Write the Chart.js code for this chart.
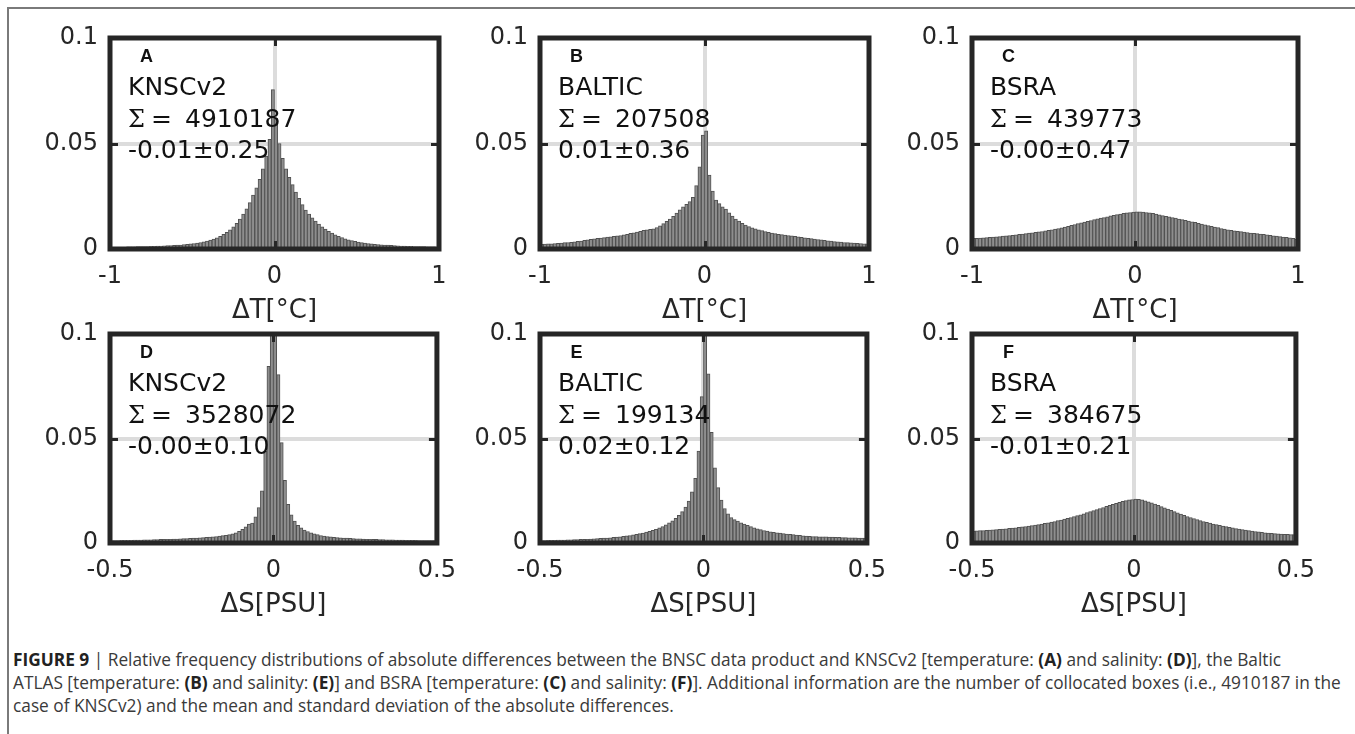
<!DOCTYPE html>
<html>
<head>
<meta charset="utf-8">
<script src="https://cdn.jsdelivr.net/npm/chart.js@4.4.1/dist/chart.umd.min.js"></script>
<style>
body { margin: 0; background: #fff; }
#page { position: relative; width: 1355px; height: 734px; overflow: hidden; background: #fff; }
#page canvas { position: absolute; }
#topLine { position: absolute; left: 7px; top: 7px; right: 0; height: 2px; background: #7a7a7a; }
#leftLine { position: absolute; left: 7px; top: 7px; bottom: 0; width: 2px; background: #7a7a7a; }
#caption { position: absolute; left: 13px; top: 648px; font-family: "Open Sans", "Liberation Sans", sans-serif; color: #3a3a3a; line-height: 23px; white-space: nowrap; font-size: 15px; }
#caption b { color: #222; }
#caption .ln span { display: inline-block; }
</style>
</head>
<body>
<div id="page">
  <div id="topLine"></div>
  <div id="leftLine"></div>
  <canvas id="pA"></canvas>
  <canvas id="pB"></canvas>
  <canvas id="pC"></canvas>
  <canvas id="pD"></canvas>
  <canvas id="pE"></canvas>
  <canvas id="pF"></canvas>
  <div id="caption">
    <div class="ln"><span><b>FIGURE 9</b> | Relative frequency distributions of absolute differences between the BNSC data product and KNSCv2 [temperature: <b>(A)</b> and salinity: <b>(D)</b>], the Baltic</span></div>
    <div class="ln"><span id="fitLine">ATLAS [temperature: <b>(B)</b> and salinity: <b>(E)</b>] and BSRA [temperature: <b>(C)</b> and salinity: <b>(F)</b>]. Additional information are the number of collocated boxes (i.e., 4910187 in the</span></div>
    <div class="ln"><span>case of KNSCv2) and the mean and standard deviation of the absolute differences.</span></div>
  </div>
</div>
<script>
// histogram ranges and tick labels
const tempRange = [-1, 1];
const salRange = [-0.5, 0.5];
const tempTicks = [-1, 0, 1];
const salTicks = [-0.5, 0, 0.5];
const freqTicks = [0, 0.05, 0.1];

const panelLabels = ['A', 'B', 'C', 'D', 'E', 'F'];
const productNames = ['KNSCv2', 'BALTIC', 'BSRA', 'KNSCv2', 'BALTIC', 'BSRA'];
const boxCounts = ['4910187', '207508', '439773', '3528072', '199134', '384675'];
const meanStd = ['-0.01±0.25', '0.01±0.36', '-0.00±0.47', '-0.00±0.10', '0.02±0.12', '-0.01±0.21'];

// relative frequencies, 100 bins each
const tempKnscv2 = [
  .0008, .0008, .0009, .0009, .0009, .0010, .0010, .0010, .0011, .0011,
  .0012, .0012, .0013, .0013, .0014, .0014, .0015, .0016, .0016, .0017,
  .0018, .0019, .0021, .0022, .0024, .0026, .0028, .0031, .0034, .0038,
  .0042, .0047, .0053, .0060, .0069, .0079, .0091, .0105, .0122, .0142,
  .0165, .0190, .0220, .0255, .0290, .0330, .0380, .0440, .0520, .0755,
  .0620, .0500, .0430, .0380, .0340, .0305, .0270, .0240, .0210, .0185,
  .0165, .0148, .0132, .0118, .0105, .0094, .0084, .0075, .0067, .0060,
  .0054, .0048, .0044, .0040, .0036, .0033, .0030, .0028, .0026, .0024,
  .0022, .0021, .0020, .0019, .0018, .0017, .0016, .0015, .0014, .0014,
  .0013, .0013, .0012, .0012, .0011, .0011, .0010, .0010, .0010, .0009
];
const tempBaltic = [
  .0022, .0023, .0024, .0025, .0026, .0027, .0028, .0030, .0031, .0032,
  .0034, .0036, .0038, .0041, .0044, .0046, .0048, .0050, .0052, .0054,
  .0056, .0058, .0060, .0062, .0064, .0067, .0070, .0074, .0077, .0080,
  .0084, .0088, .0091, .0093, .0096, .0102, .0110, .0120, .0131, .0142,
  .0155, .0170, .0186, .0200, .0212, .0225, .0245, .0300, .0390, .0540,
  .0560, .0350, .0275, .0232, .0215, .0200, .0189, .0172, .0156, .0142,
  .0132, .0122, .0113, .0106, .0100, .0096, .0091, .0087, .0083, .0079,
  .0076, .0073, .0070, .0068, .0066, .0064, .0062, .0060, .0058, .0055,
  .0053, .0051, .0049, .0047, .0045, .0043, .0041, .0039, .0037, .0035,
  .0034, .0033, .0031, .0030, .0029, .0028, .0027, .0026, .0025, .0024
];
const tempBsra = [
  .0050, .0051, .0052, .0053, .0054, .0055, .0057, .0058, .0059, .0061,
  .0062, .0064, .0065, .0067, .0069, .0071, .0073, .0075, .0077, .0079,
  .0081, .0083, .0086, .0088, .0091, .0094, .0097, .0100, .0104, .0108,
  .0112, .0116, .0120, .0124, .0128, .0131, .0135, .0139, .0143, .0146,
  .0149, .0153, .0157, .0160, .0163, .0166, .0169, .0171, .0173, .0175,
  .0176, .0176, .0175, .0173, .0171, .0169, .0166, .0162, .0158, .0155,
  .0152, .0149, .0146, .0142, .0139, .0136, .0132, .0129, .0126, .0122,
  .0118, .0114, .0111, .0107, .0104, .0101, .0097, .0094, .0091, .0088,
  .0086, .0084, .0082, .0080, .0078, .0076, .0074, .0073, .0071, .0069,
  .0067, .0065, .0063, .0061, .0059, .0057, .0055, .0053, .0050, .0047
];
const salKnscv2 = [
  .0012, .0012, .0012, .0013, .0013, .0013, .0013, .0014, .0014, .0014,
  .0015, .0015, .0015, .0016, .0016, .0017, .0017, .0018, .0018, .0019,
  .0019, .0020, .0021, .0021, .0022, .0023, .0024, .0025, .0026, .0027,
  .0028, .0029, .0031, .0033, .0035, .0037, .0040, .0044, .0049, .0056,
  .0065, .0077, .0090, .0095, .0125, .0170, .0250, .0440, .0845, .1150,
  .1200, .0806, .0480, .0300, .0185, .0135, .0105, .0085, .0072, .0062,
  .0055, .0049, .0044, .0040, .0036, .0033, .0031, .0029, .0027, .0026,
  .0025, .0024, .0023, .0022, .0021, .0020, .0020, .0019, .0018, .0018,
  .0017, .0017, .0016, .0016, .0015, .0015, .0015, .0014, .0014, .0014,
  .0013, .0013, .0013, .0013, .0012, .0012, .0012, .0012, .0011, .0011
];
const salBaltic = [
  .0012, .0012, .0013, .0013, .0013, .0014, .0014, .0014, .0015, .0015,
  .0016, .0016, .0017, .0017, .0018, .0019, .0020, .0021, .0022, .0023,
  .0024, .0025, .0027, .0028, .0030, .0032, .0034, .0036, .0039, .0042,
  .0045, .0048, .0052, .0056, .0061, .0066, .0072, .0079, .0087, .0096,
  .0106, .0118, .0132, .0150, .0172, .0200, .0245, .0310, .0440, .0700,
  .1150, .0810, .0530, .0360, .0265, .0205, .0165, .0140, .0122, .0112,
  .0105, .0097, .0090, .0084, .0078, .0073, .0068, .0064, .0060, .0057,
  .0054, .0051, .0049, .0047, .0045, .0043, .0041, .0040, .0038, .0037,
  .0034, .0033, .0032, .0031, .0031, .0030, .0029, .0029, .0028, .0028,
  .0027, .0027, .0026, .0026, .0025, .0025, .0025, .0024, .0024, .0024
];
const salBsra = [
  .0057, .0058, .0059, .0060, .0061, .0062, .0063, .0064, .0066, .0067,
  .0068, .0070, .0071, .0073, .0075, .0077, .0079, .0081, .0083, .0086,
  .0088, .0091, .0094, .0097, .0100, .0103, .0107, .0110, .0114, .0118,
  .0122, .0126, .0131, .0135, .0140, .0145, .0150, .0155, .0160, .0165,
  .0170, .0175, .0180, .0185, .0190, .0195, .0199, .0203, .0206, .0208,
  .0210, .0209, .0206, .0202, .0197, .0192, .0186, .0180, .0174, .0168,
  .0162, .0156, .0150, .0144, .0138, .0132, .0127, .0122, .0117, .0112,
  .0107, .0103, .0099, .0095, .0091, .0088, .0084, .0081, .0078, .0075,
  .0072, .0069, .0067, .0064, .0062, .0059, .0057, .0055, .0053, .0051,
  .0049, .0048, .0046, .0045, .0044, .0043, .0042, .0041, .0040, .0040
];

const panelSeries = [tempKnscv2, tempBaltic, tempBsra, salKnscv2, salBaltic, salBsra];

// frame positions (plot box edges) of the 3x2 grid
const colEdges = [[110, 439], [540, 869], [972, 1298]];
const rowEdges = [[38, 249], [334, 543]];
const padLeft = 110, padTop = 30, padRight = 30, padBottom = 95;

const tickFont = { family: 'DejaVu Sans', size: 24 };
const ink = '#262626';

function binCenters(range, n) {
  const w = (range[1] - range[0]) / n;
  const out = [];
  for (let i = 0; i < n; i++) out.push(range[0] + (i + 0.5) * w);
  return out;
}

const panelFrame = {
  id: 'panelFrame',
  afterDraw(chart, args, opts) {
    const { ctx, chartArea: a, scales } = chart;
    ctx.save();
    // small inward tick marks like matlab
    ctx.strokeStyle = ink;
    ctx.lineWidth = 3;
    ctx.beginPath();
    freqTicks.slice(1, -1).forEach(v => {
      const y = Math.round(scales.y.getPixelForValue(v)) + 0.5;
      ctx.moveTo(a.left, y); ctx.lineTo(a.left + 8, y);
      ctx.moveTo(a.right, y); ctx.lineTo(a.right - 8, y);
    });
    opts.xTicks.slice(1, -1).forEach(v => {
      const x = Math.round(scales.x.getPixelForValue(v)) + 0.5;
      ctx.moveTo(x, a.top); ctx.lineTo(x, a.top + 8);
      ctx.moveTo(x, a.bottom); ctx.lineTo(x, a.bottom - 8);
    });
    ctx.stroke();

    ctx.lineWidth = 5;
    ctx.strokeRect(a.left, a.top, a.right - a.left, a.bottom - a.top);

    // panel letter and info text
    ctx.fillStyle = '#111';
    ctx.textBaseline = 'alphabetic';
    ctx.textAlign = 'center';
    ctx.font = 'bold 18px "Liberation Sans", Arial, sans-serif';
    ctx.fillText(opts.label, a.left + 36.5, a.top + 24);
    ctx.textAlign = 'left';
    const x0 = a.left + 18;
    ctx.font = '25px "DejaVu Sans"';
    ctx.fillText(opts.name, x0, a.top + 56.5);
    ctx.font = '24px "DejaVu Serif"';
    ctx.fillText('Σ', x0, a.top + 88.5);
    ctx.font = '25px "DejaVu Sans"';
    ctx.fillText('=', x0 + 23, a.top + 88.5);
    ctx.fillText(opts.count, x0 + 57, a.top + 88.5);
    ctx.fillText(opts.stats, x0, a.top + 120);
    ctx.restore();
  }
};

const canvasIds = ['pA', 'pB', 'pC', 'pD', 'pE', 'pF'];

panelSeries.forEach((series, k) => {
  const isTemp = k < 3;
  const range = isTemp ? tempRange : salRange;
  const xTicks = isTemp ? tempTicks : salTicks;
  const [l, r] = colEdges[k % 3];
  const [t, b] = rowEdges[Math.floor(k / 3)];
  const canvas = document.getElementById(canvasIds[k]);
  const W = r - l + padLeft + padRight;
  const H = b - t + padTop + padBottom;
  canvas.width = W; canvas.height = H;
  canvas.style.width = W + 'px'; canvas.style.height = H + 'px';
  canvas.style.left = (l - padLeft) + 'px';
  canvas.style.top = (t - padTop) + 'px';

  const centers = binCenters(range, series.length);

  new Chart(canvas.getContext('2d'), {
    type: 'bar',
    data: {
      datasets: [{
        data: series.map((v, i) => ({ x: centers[i], y: v })),
        backgroundColor: '#8e8e8e',
        borderColor: '#515151',
        borderWidth: 1,
        borderSkipped: 'start',
        barPercentage: 1,
        categoryPercentage: 1,
        clip: 0
      }]
    },
    options: {
      responsive: false,
      devicePixelRatio: 1,
      animation: false,
      events: [],
      layout: { padding: { left: 0, top: padTop, right: padRight, bottom: 0 } },
      plugins: {
        legend: { display: false },
        tooltip: { enabled: false },
        panelFrame: {
          label: panelLabels[k],
          name: productNames[k],
          count: boxCounts[k],
          stats: meanStd[k],
          xTicks: xTicks
        }
      },
      scales: {
        x: {
          type: 'linear',
          min: range[0],
          max: range[1],
          offset: false,
          afterBuildTicks: s => { s.ticks = xTicks.map(v => ({ value: v })); },
          afterFit: s => { s.height = padBottom; },
          ticks: {
            color: ink, font: tickFont, padding: 13, maxRotation: 0, autoSkip: false,
            callback: v => String(v)
          },
          grid: { color: '#dcdcdc', lineWidth: 4, drawTicks: false, offset: false },
          border: { display: false },
          title: {
            display: true,
            text: isTemp ? 'ΔT[°C]' : 'ΔS[PSU]',
            color: ink,
            font: { family: 'DejaVu Sans', size: 26 },
            padding: { top: 0, bottom: 17 }
          }
        },
        y: {
          min: 0,
          max: 0.1,
          afterBuildTicks: s => { s.ticks = freqTicks.map(v => ({ value: v })); },
          afterFit: s => { s.width = padLeft; },
          ticks: {
            color: ink, font: tickFont, padding: 12,
            callback: v => String(v)
          },
          grid: { color: '#dcdcdc', lineWidth: 4, drawTicks: false },
          border: { display: false }
        }
      }
    },
    plugins: [panelFrame]
  });
});

// fit caption size so the second line spans the page like the original
const fitLine = document.getElementById('fitLine');
const cap = document.getElementById('caption');
const w0 = fitLine.getBoundingClientRect().width;
cap.style.fontSize = (15 * 1329 / w0).toFixed(2) + 'px';
</script>
</body>
</html>
